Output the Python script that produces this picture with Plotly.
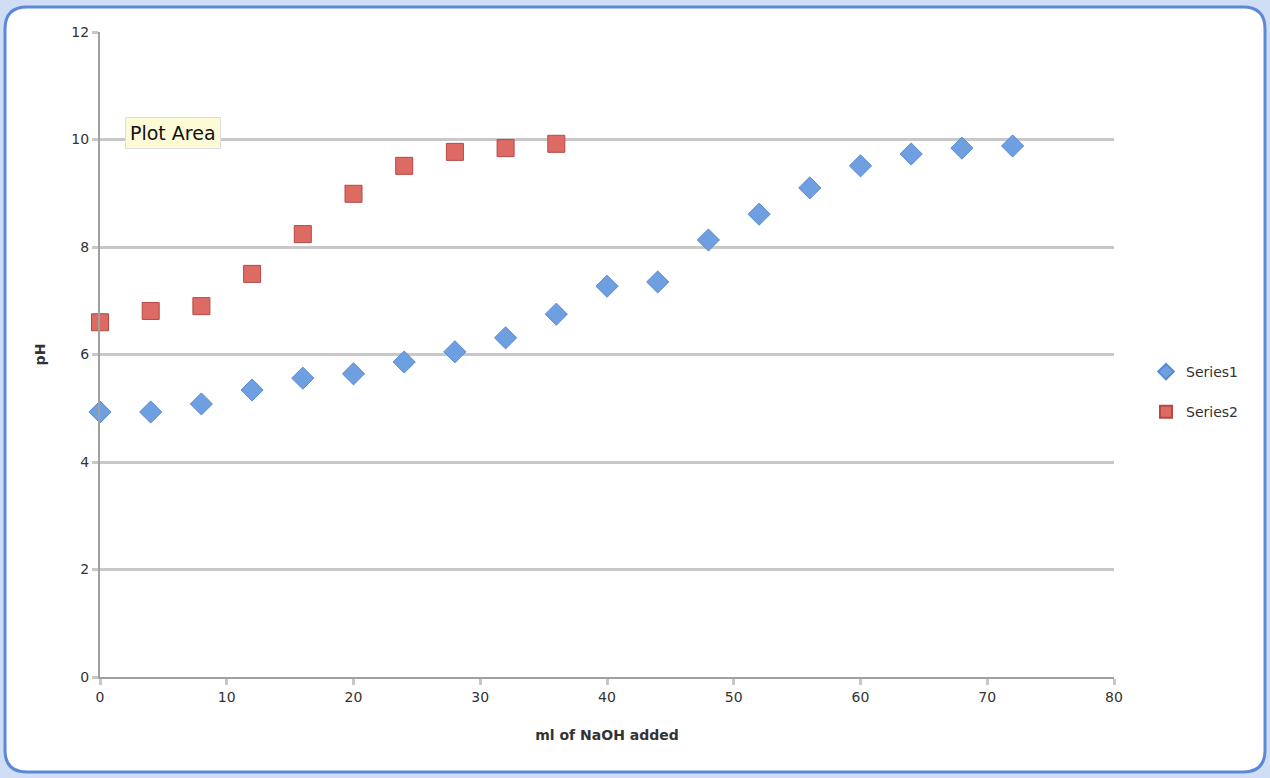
import plotly.graph_objects as go

# Data
series1_x = [0, 4, 8, 12, 16, 20, 24, 28, 32, 36, 40, 44, 48, 52, 56, 60, 64, 68, 72]
series1_y = [4.93, 4.93, 5.08, 5.34, 5.56, 5.64, 5.86, 6.05, 6.31, 6.75, 7.27, 7.35,
             8.13, 8.61, 9.10, 9.51, 9.73, 9.84, 9.88]
series2_x = [0, 4, 8, 12, 16, 20, 24, 28, 32, 36]
series2_y = [6.60, 6.81, 6.90, 7.50, 8.24, 8.99, 9.51, 9.77, 9.84, 9.92]

x_ticks = [0, 10, 20, 30, 40, 50, 60, 70, 80]
y_ticks = [0, 2, 4, 6, 8, 10, 12]

W, H = 1270, 778
L, R, T, B = 100, 156, 32, 101
PW, PH = W - L - R, H - T - B


def px(x):
    return (x - L) / PW


def py(y):
    return (H - B - y) / PH


fig = go.Figure()
fig.add_trace(go.Scatter(
    x=series1_x, y=series1_y, mode="markers", name="Series1", legendgroup="a",
    cliponaxis=False,
    marker=dict(symbol="diamond", size=17, color="#6e9fe0",
                line=dict(color="#5a8ad0", width=1)),
))
fig.add_trace(go.Scatter(
    x=series2_x, y=series2_y, mode="markers", name="Series2", legendgroup="b",
    cliponaxis=False,
    marker=dict(symbol="square", size=17, color="#de6a64",
                line=dict(color="#b54843", width=1)),
))

# rounded white border panel
x0, x1, y0, y1, r = 5, 1265, 7, 772, 22
path = (f"M {px(x0 + r)},{py(y0)} L {px(x1 - r)},{py(y0)} "
        f"Q {px(x1)},{py(y0)} {px(x1)},{py(y0 + r)} "
        f"L {px(x1)},{py(y1 - r)} Q {px(x1)},{py(y1)} {px(x1 - r)},{py(y1)} "
        f"L {px(x0 + r)},{py(y1)} Q {px(x0)},{py(y1)} {px(x0)},{py(y1 - r)} "
        f"L {px(x0)},{py(y0 + r)} Q {px(x0)},{py(y0)} {px(x0 + r)},{py(y0)} Z")

fig.update_layout(
    width=W, height=H,
    margin=dict(l=L, r=R, t=T, b=B),
    paper_bgcolor="#cfdef4",
    plot_bgcolor="rgba(0,0,0,0)",
    font=dict(family="DejaVu Sans", color="#333333", size=14),
    showlegend=True,
    legend=dict(x=px(1146), y=py(356), xanchor="left", yanchor="top",
                traceorder="grouped", tracegroupgap=19, itemsizing="constant",
                font=dict(size=14, color="#333333"), bgcolor="rgba(0,0,0,0)"),
    shapes=[dict(type="path", path=path, xref="paper", yref="paper",
                 fillcolor="white", line=dict(color="#5b88d8", width=3), layer="below")],
    annotations=[dict(text="Plot Area", xref="paper", yref="paper",
                      x=px(173), y=py(133), xanchor="center", yanchor="middle",
                      showarrow=False,
                      font=dict(size=19, color="#111111", family="DejaVu Sans"),
                      bgcolor="#fdfbd6", bordercolor="#dddddd", borderwidth=1, borderpad=4)],
)
fig.update_xaxes(
    range=[0, 80], tickvals=x_ticks, showgrid=False, zeroline=False,
    showline=True, linecolor="#a0a0a0", linewidth=2,
    ticks="outside", ticklen=6, tickcolor="#c8c8c8", tickwidth=3,
    title=dict(text="<b>ml of NaOH added</b>", font=dict(size=14, color="#333333"), standoff=26),
    tickfont=dict(size=14, color="#333333"),
)
fig.update_yaxes(
    range=[0, 12], tickvals=y_ticks, showgrid=True, gridcolor="#c8c8c8", gridwidth=3,
    zeroline=False, showline=True, linecolor="#a0a0a0", linewidth=2,
    ticks="outside", ticklen=6, tickcolor="#c8c8c8", tickwidth=3,
    title=dict(text="<b>pH</b>", font=dict(size=14, color="#333333"), standoff=22),
    tickfont=dict(size=14, color="#333333"),
)

fig.write_html(
    "out.html",
    config={"displayModeBar": False},
    post_script="document.body.style.margin='0';document.body.style.background='#cfdef4';",
)
